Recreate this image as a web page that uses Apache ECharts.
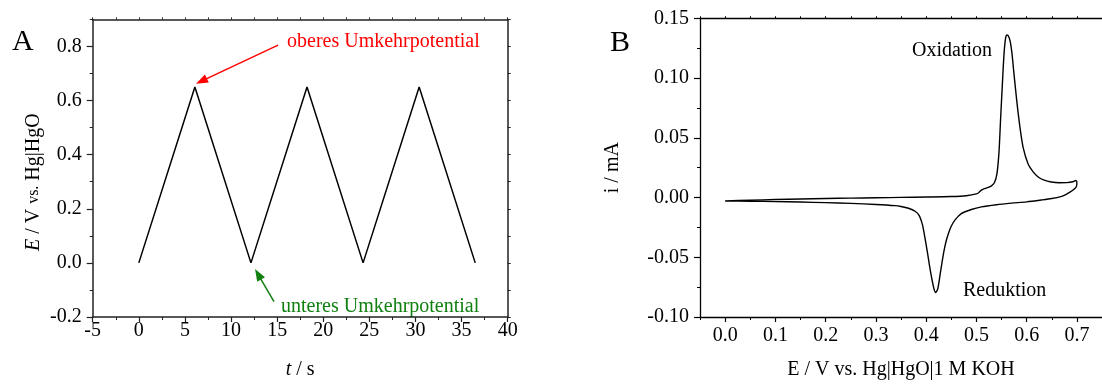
<!DOCTYPE html>
<html>
<head>
<meta charset="utf-8">
<script src="https://cdn.jsdelivr.net/npm/echarts@6/dist/echarts.min.js"></script>
<style>html,body{margin:0;padding:0;background:#fff;}#c{width:1102px;height:385px;}</style>
</head>
<body>
<div id="c"></div>
<script>
// Panel A: triangular potential sweep
const tValues = [0, 6.08, 12.16, 18.24, 24.32, 30.4, 36.48];
const eValues = [0, 0.65, 0, 0.65, 0, 0.65, 0];
const aXTicks = [-5, 0, 5, 10, 15, 20, 25, 30, 35, 40];
const aYTicks = [-0.2, 0, 0.2, 0.4, 0.6, 0.8];
// annotation arrows (data space): [from, to]
const upperArrow = [[15.1, 0.805], [6.79, 0.672]];
const lowerArrow = [[14.66, -0.143], [12.93, -0.042]];

// Panel B: cyclic voltammogram
const cvE = [0.000,0.05,0.10,0.15,0.20,0.25,0.30,0.35,0.40,0.45,0.48,0.50,0.505,0.510,0.515,0.522,0.530,0.536,0.541,0.545,0.548,0.5515,0.555,0.558,0.561,0.564,0.5676,0.571,0.574,0.5806,0.587,0.593,0.603,0.613,0.623,0.635,0.649,0.665,0.680,0.692,0.698,0.700,
  0.699,0.693,0.687,0.678,0.668,0.650,0.630,0.600,0.570,0.540,0.510,0.490,0.470,0.4576,0.450,0.4447,0.4395,0.435,0.4285,0.4233,0.419,0.4155,0.409,0.4026,0.399,0.396,0.3925,0.386,0.378,0.365,0.350,0.338,0.30,0.25,0.20,0.15,0.10,0.05,0.00];
const cvI = [-0.0028,-0.0022,-0.0017,-0.0012,-0.0008,-0.0005,-0.0002,0.0001,0.0004,0.0008,0.0015,0.0030,0.0042,0.0062,0.0072,0.0082,0.0098,0.0125,0.0200,0.0380,0.0640,0.0930,0.1200,0.1330,0.1360,0.1350,0.1300,0.1200,0.1070,0.0800,0.0580,0.0420,0.0280,0.0215,0.0172,0.0145,0.0130,0.0124,0.0125,0.0132,0.0142,0.0130,
  0.0090,0.0065,0.0047,0.0025,0.0008,-0.0008,-0.0020,-0.0036,-0.0047,-0.0060,-0.0078,-0.0100,-0.0135,-0.0187,-0.0240,-0.0297,-0.0370,-0.0460,-0.0626,-0.0762,-0.0795,-0.0762,-0.0626,-0.0460,-0.0370,-0.0297,-0.0225,-0.0150,-0.0115,-0.0090,-0.0075,-0.0068,-0.0058,-0.0049,-0.0043,-0.0038,-0.0034,-0.0031,-0.0029];
const bXTicks = [0, 0.1, 0.2, 0.3, 0.4, 0.5, 0.6, 0.7];

const FONT = 'Liberation Serif';
const lineCol = '#222';
const txt = {color: '#000', fontFamily: FONT, fontSize: 20};

const chart = echarts.init(document.getElementById('c'), null, {renderer: 'canvas'});

function frameAxis(extra) {
  return Object.assign({
    type: 'value', axisLine: {show: true, onZero: false, lineStyle: {color: lineCol, width: 1.5}},
    axisTick: {show: true, inside: false, length: 3, lineStyle: {color: lineCol, width: 1}},
    axisLabel: {show: false}, splitLine: {show: false}, minorTick: {show: false}
  }, extra);
}

const option = {
  animation: false,
  backgroundColor: '#fff',
  grid: [
    {left: 92.7, top: 19.4, width: 415, height: 303.3, containLabel: false},
    {left: 700, top: 18.3, width: 412, height: 304.4, containLabel: false}
  ],
  xAxis: [
    // 0: panel A bottom
    {type: 'value', gridIndex: 0, position: 'bottom', min: -5, max: 40, interval: 5,
      axisLine: {show: true, onZero: false, lineStyle: {color: lineCol, width: 1.5}},
      axisTick: {show: true, inside: false, length: 5, lineStyle: {color: lineCol, width: 1.2}},
      minorTick: {show: true, splitNumber: 2, length: 3, lineStyle: {color: lineCol, width: 1}},
      axisLabel: Object.assign({margin: 4, formatter: v => String(v)}, txt),
      splitLine: {show: false},
      name: '{i|t} / s', nameLocation: 'middle', nameGap: 43,
      nameTextStyle: Object.assign({rich: {i: {fontStyle: 'italic', fontFamily: FONT, fontSize: 20}}}, txt)},
    // 1: panel A top frame
    frameAxis({gridIndex: 0, position: 'top', min: -5, max: 40, interval: 2.5, axisTick: {show: true, length: 2, lineStyle: {color: lineCol}}}),
    // 2: panel B bottom
    {type: 'value', gridIndex: 1, position: 'bottom', min: -0.05, max: 0.75, interval: 0.05,
      axisLine: {show: true, onZero: false, lineStyle: {color: '#000', width: 1.3}},
      axisTick: {show: true, inside: false, length: 5, customValues: bXTicks, lineStyle: {color: '#000', width: 1.2}},
      axisLabel: Object.assign({margin: 9, customValues: bXTicks, formatter: v => v.toFixed(1)}, txt),
      splitLine: {show: false},
      name: 'E / V vs. Hg|HgO|1 M KOH', nameLocation: 'middle', nameGap: 43,
      nameTextStyle: txt},
    // 3: panel B bottom minor ticks
    {type: 'value', gridIndex: 1, position: 'bottom', min: -0.05, max: 0.75, interval: 0.05,
      axisLine: {show: false, onZero: false}, axisTick: {show: true, inside: false, length: 3, lineStyle: {color: '#000', width: 1}},
      axisLabel: {show: false}, splitLine: {show: false}},
    // 4: panel B top frame
    frameAxis({gridIndex: 1, position: 'top', min: -0.05, max: 0.75, interval: 0.05,
      axisLine: {show: true, onZero: false, lineStyle: {color: '#000', width: 1.3}},
      axisTick: {show: true, length: 2, lineStyle: {color: '#000'}}})
  ],
  yAxis: [
    // 0: panel A left
    {type: 'value', gridIndex: 0, position: 'left', min: -0.2, max: 0.9, interval: 0.1,
      axisLine: {show: true, onZero: false, lineStyle: {color: lineCol, width: 1.5}},
      axisTick: {show: true, inside: false, length: 6, customValues: aYTicks, lineStyle: {color: lineCol, width: 1.2}},
      axisLabel: Object.assign({margin: 11, customValues: aYTicks, formatter: v => v.toFixed(1)}, txt),
      splitLine: {show: false},
      name: '{i|E} / V {s|vs.} Hg|HgO', nameLocation: 'middle', nameGap: 49, nameRotate: 90,
      nameTextStyle: Object.assign({padding: [0, 28, 0, 0], rich: {
        i: {fontStyle: 'italic', fontFamily: FONT, fontSize: 20, color: '#000'},
        s: {fontFamily: FONT, fontSize: 16, color: '#000'}}}, txt)},
    // 1: panel A left minor ticks
    {type: 'value', gridIndex: 0, position: 'left', min: -0.2, max: 0.9, interval: 0.1,
      axisLine: {show: false, onZero: false}, axisTick: {show: true, inside: false, length: 3, lineStyle: {color: lineCol, width: 1}},
      axisLabel: {show: false}, splitLine: {show: false}},
    // 2: panel A right frame
    frameAxis({gridIndex: 0, position: 'right', min: -0.2, max: 0.9, interval: 0.1}),
    // 3: panel B left
    {type: 'value', gridIndex: 1, position: 'left', min: -0.1, max: 0.15, interval: 0.05,
      axisLine: {show: true, onZero: false, lineStyle: {color: '#000', width: 1.3}},
      axisTick: {show: true, inside: false, length: 6, lineStyle: {color: '#000', width: 1.2}},
      minorTick: {show: true, splitNumber: 2, length: 3, lineStyle: {color: '#000', width: 1}},
      axisLabel: Object.assign({margin: 11, formatter: v => v.toFixed(2)}, txt),
      splitLine: {show: false},
      name: 'i / mA', nameLocation: 'middle', nameGap: 77, nameRotate: 90,
      nameTextStyle: txt}
  ],
  series: [
    {type: 'line', xAxisIndex: 0, yAxisIndex: 0, data: tValues.map((t, k) => [t, eValues[k]]),
      showSymbol: false, symbol: 'none', lineStyle: {color: '#000', width: 1.5},
      markLine: {silent: true, symbol: ['none', 'triangle'], symbolSize: [9, 12], label: {show: false},
        data: [
          [{coord: upperArrow[0], lineStyle: {color: '#ff0000', width: 1.5, type: 'solid'}, itemStyle: {color: '#ff0000'}},
           {coord: upperArrow[1], itemStyle: {color: '#ff0000'}}],
          [{coord: lowerArrow[0], lineStyle: {color: '#108010', width: 1.5, type: 'solid'}, itemStyle: {color: '#108010'}},
           {coord: lowerArrow[1], itemStyle: {color: '#108010'}}]
        ]}},
    {type: 'line', xAxisIndex: 2, yAxisIndex: 3, data: cvE.map((e, k) => [e, cvI[k]]),
      showSymbol: false, symbol: 'none', smooth: 0.25, lineStyle: {color: '#000', width: 1.4}}
  ],
  graphic: [
    {type: 'text', x: 12, y: 42, style: {text: 'A', fill: '#000', font: '30px "Liberation Serif"', verticalAlign: 'middle', textVerticalAlign: 'middle'}},
    {type: 'text', x: 610, y: 43, style: {text: 'B', fill: '#000', font: '30px "Liberation Serif"', verticalAlign: 'middle', textVerticalAlign: 'middle'}},
    {type: 'text', x: 287, y: 42, style: {text: 'oberes Umkehrpotential', fill: '#ff0000', font: '20px "Liberation Serif"', verticalAlign: 'middle', textVerticalAlign: 'middle'}},
    {type: 'text', x: 281, y: 307, style: {text: 'unteres Umkehrpotential', fill: '#108010', font: '20px "Liberation Serif"', verticalAlign: 'middle', textVerticalAlign: 'middle'}},
    {type: 'text', x: 912, y: 51, style: {text: 'Oxidation', fill: '#000', font: '20px "Liberation Serif"', verticalAlign: 'middle', textVerticalAlign: 'middle'}},
    {type: 'text', x: 963, y: 291, style: {text: 'Reduktion', fill: '#000', font: '20px "Liberation Serif"', verticalAlign: 'middle', textVerticalAlign: 'middle'}}
  ]
};
chart.setOption(option);
</script>
</body>
</html>
